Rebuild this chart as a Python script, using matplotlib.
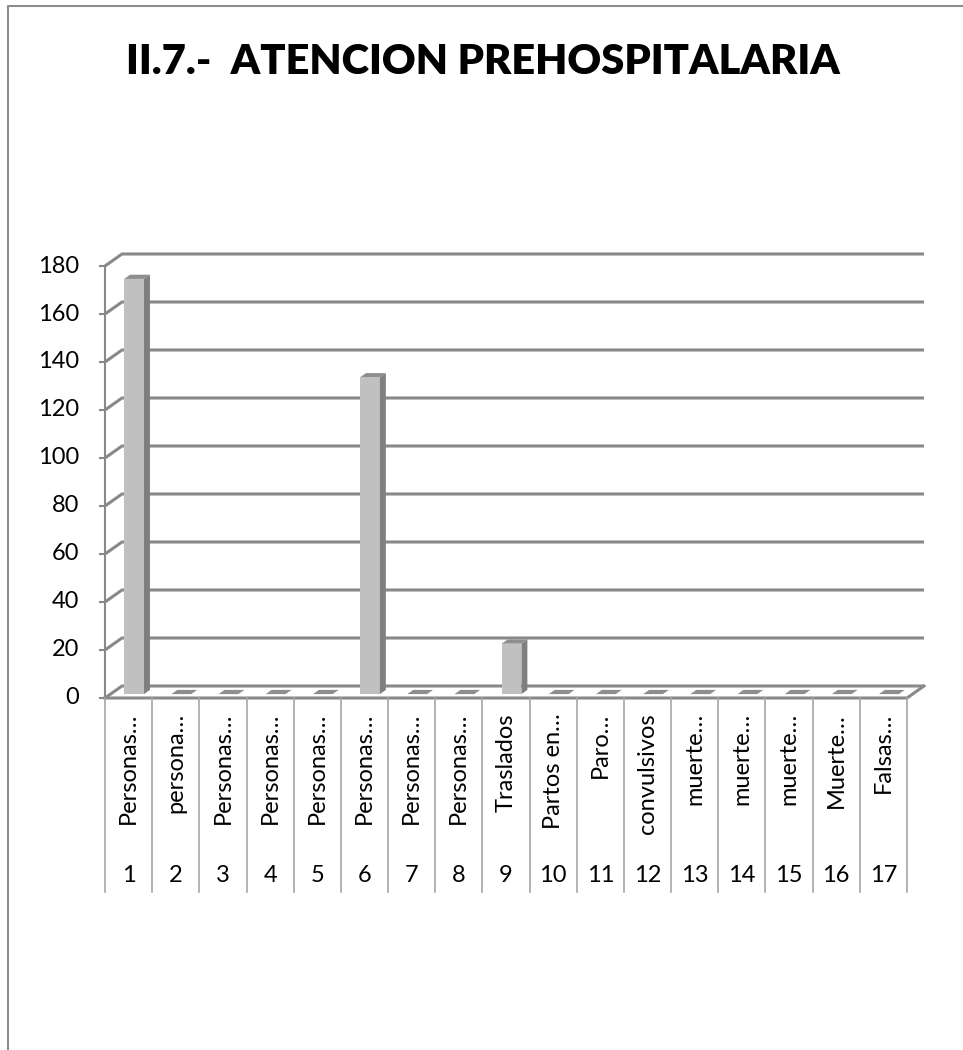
import numpy as np
import matplotlib.pyplot as plt
from matplotlib.patches import Polygon

plt.rcParams['font.family'] = ['Lato', 'DejaVu Sans']

#%% data
categorias = ['Personas…', 'persona…', 'Personas…', 'Personas…', 'Personas…',
              'Personas…', 'Personas…', 'Personas…', 'Traslados', 'Partos en…',
              'Paro…', 'convulsivos', 'muerte…', 'muerte…', 'muerte…',
              'Muerte…', 'Falsas…']
numeros = [str(i) for i in range(1, 18)]
valores = [173, 0, 0, 0, 0, 132, 0, 0, 21, 0, 0, 0, 0, 0, 0, 0, 0]
yticks = np.arange(0, 181, 20)
titulo = 'II.7.-  ATENCION PREHOSPITALARIA'

#%% 3d look
n = len(valores)
DX, DY = 0.36, 5.0        # floor depth (data units)
F0, FD = 0.325, 0.35      # bar position / depth inside floor
BW = 0.42                 # bar width
grid_c = '#898989'
front_c, side_c, top_c = '#c0c0c0', '#7f7f7f', '#8e8e8e'
fs = 17

fig = plt.figure(figsize=(9.63, 10.5), dpi=100)
ax = fig.add_axes([105/963, 352/1050, 802/963, 432/1050])
ax.set_xlim(0, n)
ax.set_ylim(0, 180)
ax.axis('off')

# back gridlines + diagonals
for v in yticks:
    ax.plot([0, DX, n + DX], [v, v + DY, v + DY], color=grid_c, lw=2.2,
            clip_on=False, solid_capstyle='butt', zorder=1)
    ax.plot([-0.1, 0], [v, v], color=grid_c, lw=1.5, clip_on=False, zorder=1)
    ax.text(-0.55, v, str(v), ha='right', va='center', fontsize=fs, clip_on=False)

# front axis, floor
ax.plot([0, 0], [0, 180], color=grid_c, lw=1.5, clip_on=False, zorder=1)
ax.plot([0, n, n + DX], [0, 0, DY], color=grid_c, lw=2.2, clip_on=False, zorder=1)

# bars
for i, v in enumerate(valores):
    x0 = i + (1 - BW) / 2 + F0 * DX
    y0 = F0 * DY
    ddx, ddy = FD * DX, FD * DY
    top = [(x0, y0 + v), (x0 + BW, y0 + v), (x0 + BW + ddx, y0 + v + ddy), (x0 + ddx, y0 + v + ddy)]
    ax.add_patch(Polygon(top, closed=True, fc=top_c, ec='none', zorder=3, clip_on=False))
    if v > 0:
        ax.add_patch(Polygon([(x0, y0), (x0 + BW, y0), (x0 + BW, y0 + v), (x0, y0 + v)],
                             closed=True, fc=front_c, ec='none', zorder=3, clip_on=False))
        ax.add_patch(Polygon([(x0 + BW, y0), (x0 + BW + ddx, y0 + ddy),
                              (x0 + BW + ddx, y0 + v + ddy), (x0 + BW, y0 + v)],
                             closed=True, fc=side_c, ec='none', zorder=3, clip_on=False))

# category axis (two levels)
for i in range(n + 1):
    ax.plot([i, i], [0, -81], color='#a6a6a6', lw=1.2, clip_on=False, zorder=1)
for i in range(n):
    ax.text(i + 0.5, -6.3, categorias[i], rotation=90, ha='center', va='top',
            fontsize=fs, clip_on=False)
    ax.text(i + 0.5, -74, numeros[i], ha='center', va='center', fontsize=fs, clip_on=False)

fig.text(483/963, 1 - 62/1050, titulo, ha='center', va='center', fontsize=30,
         fontweight='heavy')

# chart border
fig.add_artist(plt.Line2D([8/963, 8/963, 1], [0, 1 - 6/1050, 1 - 6/1050],
                          transform=fig.transFigure, color='#8c8c8c', lw=1.5))

fig.savefig('out.png', dpi=100)
